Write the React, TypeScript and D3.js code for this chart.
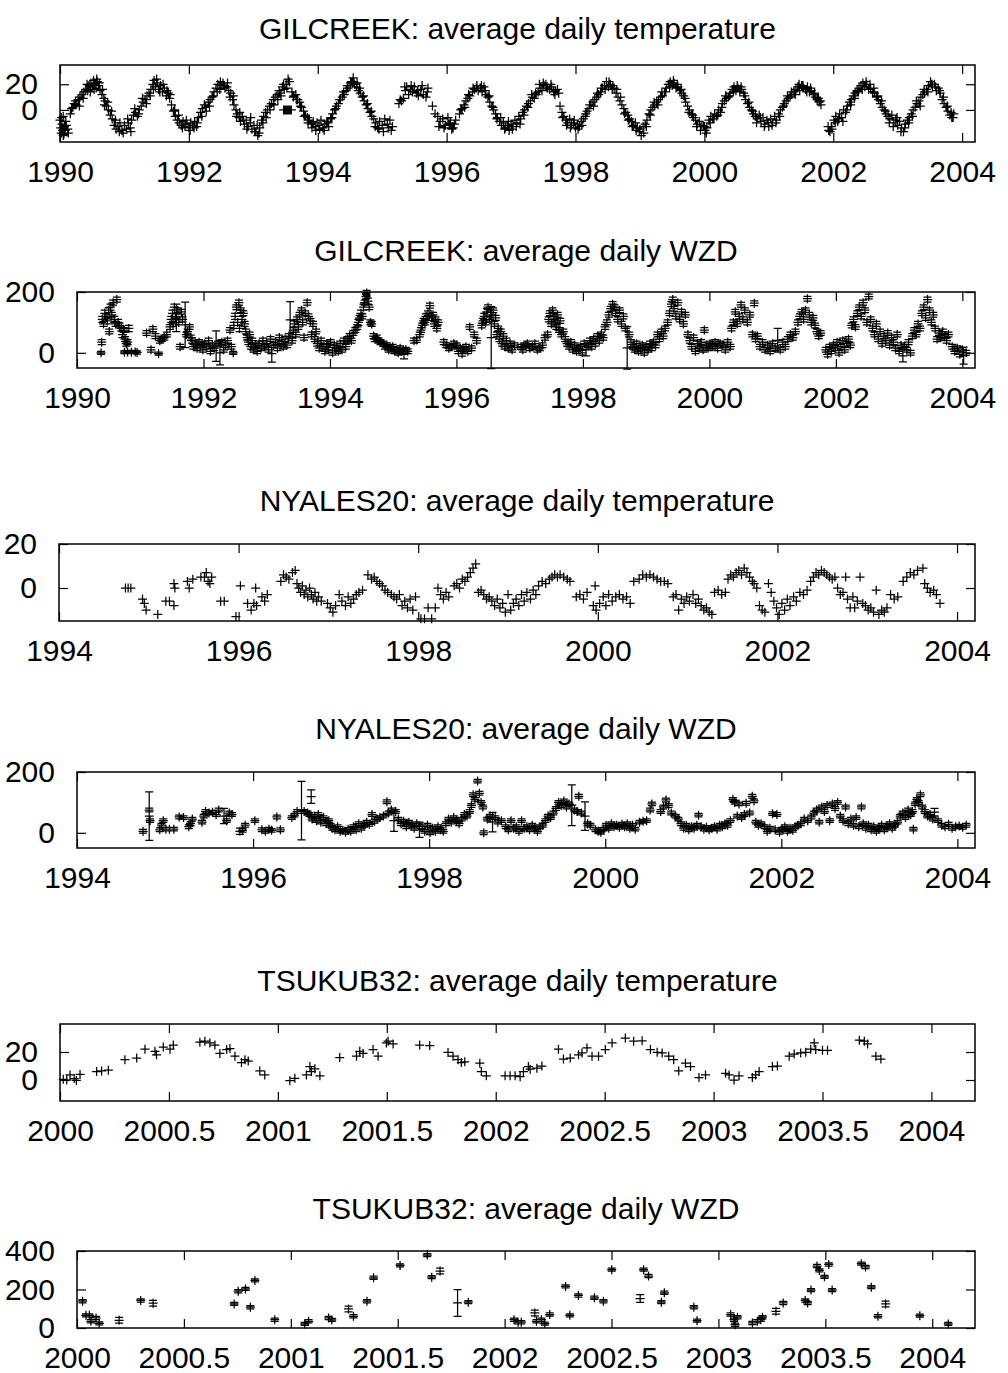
import React, { useEffect, useRef } from 'react';
import * as d3 from 'd3';

// GILCREEK: average daily temperature [year, degC]
const gilTemp: number[][] = [
  [1990.00,-8],[1990.01,-14],[1990.02,-18],[1990.03,-11],[1990.04,-16],[1990.05,-5],[1990.06,-19],[1990.07,-13],[1990.08,-16],[1990.10,-12],[1990.12,-15],
  [1990.16,-3],[1990.20,2],[1990.22,5],[1990.25,4],[1990.28,8],[1990.31,10],[1990.34,12],[1990.37,14],[1990.40,16],[1990.43,15],[1990.45,19],[1990.48,21],[1990.50,18],[1990.52,23],[1990.54,20],[1990.56,17],[1990.58,22],[1990.60,19],[1990.62,15],
  [1990.65,12],[1990.68,9],[1990.70,7],[1990.72,3],[1990.75,0],[1990.78,-4],[1990.81,-7],[1990.84,-12],[1990.87,-15],[1990.90,-13],[1990.93,-10],[1990.96,-16],[1991.00,-12],[1991.03,-15],[1991.06,-10],[1991.09,-14],[1991.11,-8],
  [1991.14,-4],[1991.17,-2],[1991.20,-5],[1991.23,0],[1991.26,3],[1991.29,6],[1991.32,8],[1991.35,11],[1991.38,13],[1991.41,16],[1991.44,20],[1991.46,23],[1991.48,18],[1991.51,21],[1991.53,16],[1991.56,19],[1991.59,14],[1991.62,17],[1991.65,11],[1991.68,13],[1991.70,9],
  [1991.73,4],[1991.76,-1],[1991.79,-5],[1991.82,-8],[1991.85,-10],[1991.88,-12],[1991.91,-9],[1991.94,-13],[1991.97,-11],[1992.00,-14],[1992.03,-10],[1992.06,-12],[1992.09,-9],[1992.12,-13],
  [1992.15,-6],[1992.18,-2],[1992.21,1],[1992.24,4],[1992.27,-1],[1992.30,6],[1992.33,8],[1992.36,10],[1992.39,14],[1992.42,17],[1992.45,20],[1992.48,16],[1992.50,19],[1992.53,21],[1992.56,17],[1992.59,18],[1992.62,15],[1992.65,13],
  [1992.68,8],[1992.70,4],[1992.73,0],[1992.75,-3],[1992.78,-6],[1992.80,-9],[1992.83,-5],[1992.86,-11],[1992.89,-8],[1992.92,-13],[1992.95,-10],[1992.98,-15],[1993.01,-12],[1993.04,-17],[1993.07,-20],[1993.10,-14],
  [1993.13,-8],[1993.16,-5],[1993.19,-2],[1993.22,0],[1993.25,3],[1993.28,5],[1993.31,8],[1993.34,10],[1993.37,12],[1993.40,15],[1993.42,13],[1993.45,18],[1993.48,16],[1993.51,20],[1993.54,24],
  [1993.47,0],[1993.49,0],[1993.51,0],[1993.53,0],[1993.55,0],[1993.57,0],[1993.59,0],
  [1993.60,14],[1993.63,11],[1993.66,12],[1993.69,8],[1993.72,6],[1993.75,2],[1993.78,-1],[1993.81,-4],[1993.84,-6],[1993.87,-8],[1993.90,-11],[1993.93,-9],[1993.96,-13],[1993.99,-10],[1994.02,-12],[1994.05,-8],[1994.08,-14],[1994.11,-11],[1994.14,-9],[1994.17,-13],[1994.20,-7],
  [1994.23,-3],[1994.26,0],[1994.29,3],[1994.32,5],[1994.35,8],[1994.38,10],[1994.41,12],[1994.44,15],[1994.47,17],[1994.50,19],[1994.53,22],[1994.55,25],[1994.57,20],[1994.60,18],[1994.63,15],[1994.66,13],
  [1994.69,10],[1994.72,7],[1994.75,4],[1994.78,1],[1994.81,-2],[1994.84,-5],[1994.87,-7],[1994.90,-10],[1994.93,-14],[1994.96,-9],[1995.00,-12],[1995.04,-7],[1995.08,-11],[1995.12,-8],[1995.16,-13],
  [1995.26,5],[1995.30,7],[1995.33,9],[1995.36,15],[1995.38,18],[1995.41,12],[1995.44,16],[1995.47,14],[1995.50,18],[1995.53,13],[1995.56,11],[1995.60,16],[1995.64,12],[1995.68,10],[1995.71,17],
  [1995.78,3],[1995.86,-5],[1995.90,-9],[1995.94,-7],[1995.98,-12],[1996.02,-6],[1996.06,-10],[1996.10,-14],[1996.14,-8],
  [1996.20,-3],[1996.24,1],[1996.27,4],[1996.30,7],[1996.33,9],[1996.36,11],[1996.40,14],[1996.43,16],[1996.46,17],[1996.49,15],[1996.52,17],[1996.55,14],[1996.58,18],[1996.61,12],[1996.64,10],
  [1996.67,6],[1996.70,3],[1996.73,0],[1996.76,-3],[1996.79,-6],[1996.82,-9],[1996.85,-12],[1996.88,-10],[1996.91,-14],[1996.94,-12],[1996.97,-16],[1997.00,-13],[1997.03,-11],[1997.06,-8],[1997.09,-10],
  [1997.12,-5],[1997.15,-7],[1997.18,-2],[1997.21,0],[1997.24,3],[1997.27,5],[1997.30,7],[1997.33,10],[1997.36,9],[1997.39,12],[1997.42,14],[1997.45,17],[1997.48,15],[1997.51,19],[1997.54,20],[1997.57,17],[1997.60,16],[1997.63,18],[1997.66,14],[1997.69,15],[1997.72,16],
  [1997.76,3],[1997.79,-2],[1997.82,-5],[1997.85,-8],[1997.88,-10],[1997.91,-7],[1997.94,-12],[1997.97,-10],[1998.00,-14],[1998.03,-11],[1998.06,-13],[1998.09,-9],[1998.12,-7],[1998.15,-5],
  [1998.18,-1],[1998.21,1],[1998.24,4],[1998.27,6],[1998.30,8],[1998.33,10],[1998.36,12],[1998.39,14],[1998.42,17],[1998.45,19],[1998.48,22],[1998.51,18],[1998.54,20],[1998.57,16],[1998.60,17],[1998.63,13],[1998.66,10],
  [1998.69,7],[1998.72,4],[1998.75,1],[1998.78,-2],[1998.81,-4],[1998.84,-7],[1998.87,-9],[1998.90,-12],[1998.93,-10],[1998.96,-14],[1998.99,-17],[1999.02,-20],[1999.05,-13],[1999.08,-11],[1999.11,-8],
  [1999.14,-3],[1999.17,0],[1999.20,2],[1999.23,4],[1999.26,6],[1999.29,8],[1999.32,10],[1999.35,11],[1999.38,14],[1999.41,17],[1999.44,20],[1999.47,22],[1999.50,19],[1999.53,21],[1999.56,17],[1999.59,18],[1999.62,15],[1999.65,13],[1999.68,11],
  [1999.71,6],[1999.74,3],[1999.77,0],[1999.80,-3],[1999.83,-6],[1999.86,-8],[1999.89,-11],[1999.92,-9],[1999.95,-13],[1999.98,-12],[2000.01,-16],[2000.03,-18],
  [2000.07,-8],[2000.10,-5],[2000.13,-7],[2000.16,-3],[2000.19,-5],[2000.22,0],[2000.25,-2],[2000.28,5],[2000.31,7],[2000.34,9],[2000.37,10],[2000.40,13],[2000.43,16],[2000.46,18],[2000.49,15],[2000.52,17],[2000.55,14],[2000.58,16],[2000.61,13],
  [2000.64,8],[2000.67,5],[2000.70,2],[2000.73,0],[2000.76,-3],[2000.79,-5],[2000.82,-7],[2000.85,-4],[2000.88,-9],[2000.91,-6],[2000.94,-11],[2000.97,-8],[2001.00,-13],[2001.03,-7],[2001.06,-10],[2001.09,-5],[2001.12,-8],[2001.15,-3],
  [2001.18,0],[2001.21,2],[2001.24,5],[2001.27,7],[2001.30,9],[2001.33,10],[2001.36,12],[2001.39,14],[2001.42,16],[2001.45,18],[2001.48,15],[2001.51,19],[2001.54,17],[2001.57,16],[2001.60,18],[2001.63,14],[2001.66,15],[2001.69,12],[2001.72,10],[2001.75,8],[2001.78,6],[2001.81,4],
  [2001.92,-13],[2001.95,-17],[2001.98,-15],[2002.01,-8],[2002.04,-5],[2002.07,-9],[2002.10,-3],[2002.13,-6],[2002.16,0],[2002.19,-2],[2002.22,3],[2002.25,6],[2002.28,8],[2002.31,11],[2002.34,13],[2002.37,15],[2002.40,17],[2002.43,19],[2002.46,21],[2002.49,18],[2002.52,20],[2002.55,16],[2002.58,17],[2002.61,14],[2002.64,13],
  [2002.67,10],[2002.70,8],[2002.73,5],[2002.76,2],[2002.79,0],[2002.82,-3],[2002.85,-5],[2002.88,-7],[2002.91,-4],[2002.94,-10],[2002.97,-8],[2003.00,-12],[2003.03,-9],[2003.06,-14],[2003.09,-17],[2003.12,-11],[2003.15,-8],[2003.18,-6],
  [2003.21,-3],[2003.24,0],[2003.27,2],[2003.30,5],[2003.33,7],[2003.36,10],[2003.39,12],[2003.42,14],[2003.45,16],[2003.48,19],[2003.51,22],[2003.54,18],[2003.57,20],[2003.60,15],[2003.63,17],[2003.66,13],
  [2003.69,8],[2003.72,5],[2003.75,2],[2003.78,-1],[2003.81,-4],[2003.84,-6],[2003.87,-3],
  // second pass: the spread at the edges of each band
  [1990.02,-6],[1990.05,-20],[1990.09,-9],[1990.13,-18],[1990.18,1],[1990.24,7],[1990.30,3],[1990.36,9],[1990.42,20],[1990.47,14],[1990.53,16],[1990.57,24],[1990.61,21],[1990.66,16],[1990.69,4],[1990.74,6],[1990.80,-1],[1990.86,-8],[1990.92,-17],[1990.98,-18],[1991.05,-7],[1991.10,-17],
  [1991.16,1],[1991.22,-3],[1991.28,9],[1991.34,5],[1991.40,11],[1991.45,16],[1991.50,24],[1991.55,14],[1991.60,20],[1991.66,15],[1991.71,12],[1991.78,0],[1991.84,-4],[1991.90,-14],[1991.96,-8],[1992.02,-16],[1992.08,-14],[1992.13,-10],
  [1992.20,-5],[1992.26,2],[1992.32,3],[1992.38,11],[1992.44,14],[1992.49,22],[1992.55,19],[1992.60,21],[1992.64,10],[1992.69,11],[1992.74,-5],[1992.79,-2],[1992.85,-8],[1992.90,-15],[1992.96,-6],[1993.02,-17],[1993.06,-12],[1993.09,-18],
  [1993.15,-10],[1993.20,-6],[1993.26,0],[1993.32,4],[1993.38,8],[1993.43,11],[1993.47,20],[1993.52,17],[1993.56,22],[1993.62,10],[1993.67,8],[1993.73,3],[1993.79,-5],[1993.85,-10],[1993.91,-14],[1993.97,-16],[1994.03,-15],[1994.10,-16],[1994.16,-10],
  [1994.22,-6],[1994.28,1],[1994.34,8],[1994.40,14],[1994.46,19],[1994.51,21],[1994.56,22],[1994.61,21],[1994.65,17],[1994.71,11],[1994.77,5],[1994.83,-1],[1994.89,-13],[1994.95,-15],[1995.02,-17],[1995.10,-14],[1995.14,-16],
  [1995.28,8],[1995.35,18],[1995.45,19],[1995.55,15],[1995.62,19],[1995.70,14],[1995.82,-3],[1995.88,-13],[1995.96,-14],[1996.04,-11],[1996.08,-15],[1996.12,-11],
  [1996.22,0],[1996.28,2],[1996.34,12],[1996.41,17],[1996.47,19],[1996.54,19],[1996.60,15],[1996.66,11],[1996.72,2],[1996.78,-7],[1996.84,-6],[1996.90,-15],[1996.96,-9],[1997.02,-15],[1997.08,-13],[1997.14,-11],
  [1997.20,-4],[1997.26,2],[1997.32,12],[1997.38,13],[1997.44,20],[1997.50,21],[1997.56,17],[1997.62,20],[1997.68,12],[1997.74,13],[1997.80,-6],[1997.86,-12],[1997.92,-14],[1997.98,-8],[1998.04,-15],[1998.10,-12],
  [1998.16,-3],[1998.22,4],[1998.28,3],[1998.34,13],[1998.40,17],[1998.46,16],[1998.52,22],[1998.58,19],[1998.64,16],[1998.70,10],[1998.76,-3],[1998.82,-8],[1998.88,-13],[1998.94,-16],[1999.00,-15],[1999.06,-18],[1999.10,-13],
  [1999.16,-4],[1999.22,6],[1999.28,4],[1999.34,14],[1999.40,14],[1999.46,18],[1999.52,23],[1999.58,20],[1999.64,16],[1999.70,9],[1999.76,-2],[1999.82,-4],[1999.88,-13],[1999.94,-16],[2000.00,-13],[2000.04,-14],
  [2000.09,-10],[2000.15,-7],[2000.21,-4],[2000.27,2],[2000.33,11],[2000.39,11],[2000.45,14],[2000.51,19],[2000.57,18],[2000.63,11],[2000.69,6],[2000.75,-1],[2000.81,-10],[2000.87,-6],[2000.93,-13],[2000.99,-10],[2001.05,-12],[2001.11,-10],
  [2001.17,-5],[2001.23,3],[2001.29,11],[2001.35,14],[2001.41,12],[2001.47,20],[2001.53,19],[2001.59,14],[2001.65,17],[2001.71,13],[2001.77,9],[2001.80,7],
  [2001.93,-16],[2001.97,-13],[2002.03,-10],[2002.09,-7],[2002.15,-9],[2002.21,0],[2002.27,4],[2002.33,9],[2002.39,14],[2002.45,16],[2002.51,22],[2002.57,20],[2002.63,17],[2002.69,11],[2002.75,7],[2002.81,-1],[2002.87,-10],[2002.93,-13],[2002.99,-6],[2003.05,-17],[2003.11,-14],[2003.17,-10],
  [2003.23,-5],[2003.29,7],[2003.35,3],[2003.41,16],[2003.47,14],[2003.53,20],[2003.59,18],[2003.65,15],[2003.71,10],[2003.77,3],[2003.83,-2],[2003.86,-6],
];

// GILCREEK: average daily WZD [year, mm, error]
const gilWzd: number[][] = [
  [1990.38,0,5],[1990.39,35,8],[1990.40,110,10],[1990.42,95,8],[1990.44,130,10],[1990.46,120,8],[1990.48,105,10],[1990.50,140,8],[1990.51,70,8],[1990.53,150,10],[1990.55,125,8],[1990.57,165,8],[1990.59,110,10],[1990.61,95,8],[1990.63,175,8],[1990.65,100,10],[1990.67,90,8],[1990.70,80,8],[1990.72,60,10],[1990.74,75,8],[1990.76,45,8],[1990.78,30,8],[1990.80,35,8],[1990.82,80,10],
  [1990.75,2,5],[1990.80,3,5],[1990.86,2,5],[1990.92,3,5],[1990.95,1,5],
  [1991.10,65,8],[1991.17,10,8],[1991.20,78,8],[1991.24,55,8],[1991.29,-3,5],[1991.31,40,8],[1991.34,45,8],[1991.38,50,8],[1991.42,60,8],
  [1991.47,85,8],[1991.49,110,10],[1991.51,130,10],[1991.52,95,8],[1991.54,150,10],[1991.56,120,8],[1991.57,115,45],[1991.59,140,8],[1991.61,100,8],[1991.63,20,8],[1991.65,135,8],[1991.67,110,8],[1991.71,92,75],[1991.73,60,8],[1991.75,70,8],[1991.78,85,8],[1991.80,50,8],[1991.82,40,8],
  [1991.84,20,8],[1991.87,30,8],[1991.90,15,8],[1991.93,35,8],[1991.96,25,8],[1991.99,10,8],[1992.02,30,8],[1992.05,20,8],[1992.08,40,8],[1992.11,5,8],[1992.14,25,8],[1992.17,15,8],[1992.20,22,50],[1992.23,30,8],[1992.26,0,40],[1992.29,35,8],[1992.32,10,8],[1992.35,25,8],[1992.38,40,8],[1992.42,75,8],[1992.44,20,8],[1992.47,0,5],
  [1992.48,90,10],[1992.50,120,10],[1992.52,150,8],[1992.54,100,10],[1992.56,165,8],[1992.57,80,10],[1992.59,140,8],[1992.61,110,10],[1992.63,130,8],[1992.65,95,8],[1992.67,70,8],[1992.69,50,8],[1992.71,35,8],[1992.73,60,8],[1992.75,20,8],[1992.77,40,8],[1992.79,10,8],[1992.82,25,8],[1992.85,5,8],[1992.88,30,8],[1992.91,15,8],[1992.94,40,8],[1992.97,20,8],
  [1993.00,30,8],[1993.03,10,8],[1993.06,45,8],[1993.08,-3,28],[1993.11,25,8],[1993.14,35,8],[1993.17,15,8],[1993.20,50,8],[1993.23,30,8],[1993.26,20,8],[1993.29,45,8],[1993.32,25,8],[1993.35,55,8],[1993.37,108,60],[1993.40,40,8],[1993.42,75,8],[1993.44,95,10],[1993.46,60,8],[1993.48,110,8],[1993.50,85,8],[1993.52,125,8],[1993.55,140,8],[1993.57,100,8],[1993.59,50,8],[1993.61,130,8],[1993.64,165,8],[1993.66,120,8],[1993.69,105,8],[1993.71,60,8],[1993.73,95,8],[1993.76,45,8],[1993.78,70,8],
  [1993.80,30,8],[1993.83,15,8],[1993.86,40,8],[1993.89,20,8],[1993.92,5,8],[1993.95,30,8],[1993.98,10,8],[1994.01,35,8],[1994.04,0,8],[1994.07,25,8],[1994.10,15,8],[1994.13,5,8],[1994.16,30,8],[1994.19,10,8],[1994.22,40,8],[1994.25,20,8],
  [1994.28,45,8],[1994.31,55,8],[1994.34,40,8],[1994.37,65,8],[1994.40,75,8],[1994.43,85,8],[1994.45,100,10],[1994.47,115,8],[1994.49,130,10],[1994.51,120,8],[1994.53,150,10],[1994.55,165,8],[1994.57,185,8],[1994.58,197,8],[1994.60,170,10],[1994.62,150,8],[1994.64,100,8],[1994.66,95,8],[1994.69,55,8],[1994.71,45,8],[1994.74,50,8],[1994.77,40,8],[1994.80,35,8],
  [1994.84,30,8],[1994.87,20,8],[1994.90,25,8],[1994.93,10,8],[1994.96,15,8],[1994.99,20,8],[1995.02,5,8],[1995.05,10,8],[1995.08,0,8],[1995.11,15,8],[1995.14,5,8],[1995.17,-5,15],[1995.20,10,8],[1995.23,5,8],
  [1995.33,40,8],[1995.37,42,8],[1995.42,60,8],[1995.44,75,8],[1995.46,90,8],[1995.48,105,8],[1995.50,100,8],[1995.52,120,8],[1995.55,130,8],[1995.58,155,8],[1995.61,115,8],[1995.63,125,8],[1995.65,95,8],[1995.67,110,8],[1995.69,80,8],[1995.71,100,8],
  [1995.80,35,8],[1995.84,25,8],[1995.88,15,8],[1995.92,20,8],[1995.96,30,8],[1996.00,25,8],[1996.03,5,8],[1996.06,15,8],[1996.09,-3,8],[1996.12,10,8],[1996.15,20,8],[1996.18,5,8],[1996.21,85,8],[1996.24,15,8],[1996.28,60,8],[1996.32,40,8],
  [1996.40,90,8],[1996.42,105,8],[1996.44,120,10],[1996.46,100,8],[1996.48,135,10],[1996.50,150,8],[1996.52,110,8],[1996.54,125,8],[1996.55,50,102],[1996.58,140,8],[1996.60,95,8],[1996.62,115,8],[1996.64,60,8],[1996.66,80,8],[1996.68,45,8],[1996.70,70,8],[1996.72,30,8],[1996.74,55,8],[1996.76,20,8],[1996.79,40,8],[1996.82,15,8],[1996.85,30,8],[1996.88,10,8],[1996.92,25,8],
  [1997.02,20,8],[1997.05,10,8],[1997.09,25,8],[1997.12,30,8],[1997.16,15,8],[1997.20,20,8],[1997.24,30,8],[1997.28,10,8],[1997.32,15,8],[1997.36,25,8],
  [1997.40,50,8],[1997.44,60,8],[1997.46,110,8],[1997.48,130,8],[1997.50,95,8],[1997.52,140,8],[1997.54,120,8],[1997.56,100,8],[1997.58,85,8],[1997.60,125,8],[1997.62,75,8],[1997.64,105,8],[1997.66,60,8],[1997.69,70,8],[1997.72,45,8],[1997.75,30,8],
  [1997.78,20,8],[1997.81,35,8],[1997.84,10,8],[1997.87,25,8],[1997.90,5,8],[1997.93,15,8],[1997.96,20,8],[1997.99,0,8],[1998.02,30,8],[1998.05,10,20],[1998.08,25,8],[1998.11,40,8],[1998.14,20,8],[1998.17,45,8],[1998.20,30,8],[1998.23,55,8],[1998.26,40,8],[1998.29,60,8],[1998.32,50,8],
  [1998.35,85,8],[1998.38,100,8],[1998.41,125,8],[1998.44,145,8],[1998.47,160,8],[1998.50,150,8],[1998.52,130,8],[1998.55,110,8],[1998.58,140,8],[1998.61,95,8],[1998.64,120,8],[1998.67,80,8],[1998.70,16,70],[1998.73,60,8],[1998.76,35,8],
  [1998.79,20,8],[1998.82,10,8],[1998.85,30,8],[1998.88,5,8],[1998.91,15,8],[1998.94,25,8],[1998.97,0,8],[1999.00,20,8],[1999.03,10,8],[1999.06,30,8],[1999.09,15,8],[1999.12,35,8],[1999.15,25,8],[1999.18,60,8],[1999.21,45,8],[1999.24,70,8],[1999.27,55,8],[1999.30,80,8],
  [1999.34,100,8],[1999.37,130,8],[1999.40,160,8],[1999.42,175,8],[1999.44,145,8],[1999.47,120,8],[1999.50,165,8],[1999.53,110,8],[1999.56,135,8],[1999.59,95,8],[1999.62,125,8],
  [1999.66,60,8],[1999.69,40,8],[1999.72,20,8],[1999.75,50,8],[1999.78,5,8],[1999.81,30,8],[1999.84,15,8],[1999.87,35,8],[1999.90,10,8],[1999.92,75,8],[1999.95,25,8],[1999.98,15,8],[2000.01,30,8],[2000.05,20,8],[2000.09,35,8],[2000.13,15,8],[2000.17,30,8],[2000.21,25,8],[2000.25,10,8],[2000.29,35,8],[2000.33,20,8],
  [2000.35,80,8],[2000.38,100,8],[2000.41,135,8],[2000.44,95,8],[2000.47,120,8],[2000.50,158,8],[2000.53,110,8],[2000.56,140,8],[2000.60,100,8],[2000.64,125,8],[2000.68,60,8],[2000.71,163,8],[2000.73,45,8],[2000.76,55,8],
  [2000.80,20,8],[2000.84,35,8],[2000.88,10,8],[2000.92,25,8],[2000.96,5,8],[2001.00,30,8],[2001.04,15,8],[2001.08,41,39],[2001.12,10,8],[2001.16,35,8],[2001.20,20,8],[2001.24,45,8],[2001.28,60,8],[2001.32,50,8],[2001.36,70,8],
  [2001.40,100,8],[2001.43,120,8],[2001.46,135,8],[2001.49,110,8],[2001.52,140,8],[2001.55,178,8],[2001.58,125,8],[2001.61,100,8],[2001.64,115,8],[2001.67,90,8],[2001.70,70,8],[2001.73,55,8],[2001.76,65,8],
  [2001.84,10,8],[2001.87,-5,8],[2001.90,20,8],[2001.93,5,8],[2001.96,25,8],[2001.99,15,8],[2002.02,35,8],[2002.05,0,8],[2002.08,20,8],[2002.11,40,8],[2002.14,10,8],[2002.17,30,8],[2002.20,45,8],[2002.23,25,8],
  [2002.25,90,8],[2002.28,110,8],[2002.31,85,8],[2002.34,130,8],[2002.37,150,8],[2002.40,120,8],[2002.43,165,8],[2002.46,140,8],[2002.49,100,8],[2002.52,185,8],[2002.55,110,8],
  [2002.58,80,8],[2002.61,60,8],[2002.64,95,8],[2002.67,45,8],[2002.70,70,8],[2002.73,30,8],[2002.76,55,8],[2002.79,40,8],[2002.82,65,8],[2002.85,25,8],[2002.88,50,8],[2002.91,35,8],[2002.94,15,8],[2002.97,60,8],[2003.00,5,8],[2003.03,25,8],[2003.06,-10,20],[2003.09,20,8],[2003.12,10,8],[2003.15,35,8],[2003.18,0,8],
  [2003.21,55,8],[2003.24,75,8],[2003.27,60,8],[2003.30,95,8],[2003.33,80,8],[2003.36,130,8],[2003.39,150,8],[2003.42,115,8],[2003.45,175,8],[2003.48,140,8],[2003.51,100,8],[2003.54,125,8],[2003.57,80,8],[2003.60,45,8],[2003.63,65,8],[2003.66,50,8],[2003.69,70,8],[2003.72,55,8],[2003.75,40,8],[2003.78,60,8],
  [2003.84,20,8],[2003.88,5,8],[2003.92,15,8],[2003.96,-5,8],[2004.00,10,8],[2004.02,-9,28],[2004.06,0,8],
];

// NYALES20: average daily temperature [year, degC]
const nyTemp: number[][] = [
  [1994.74,0],[1994.77,0],[1994.80,0],
  [1994.93,-5],[1994.95,-7],[1994.97,-10],[1995.10,-12],[1995.19,-6],[1995.23,-6],[1995.28,-8],[1995.28,2],[1995.29,0],[1995.43,3],[1995.45,0],[1995.49,4],[1995.58,5],[1995.62,5],[1995.64,7],[1995.66,3],[1995.68,2],[1995.70,5],
  [1995.80,-6],[1995.84,-6],[1995.97,-13],[1996.02,1],[1996.10,-7],[1996.14,-10],[1996.17,-7],[1996.20,-8],[1996.19,0],[1996.26,-4],[1996.29,-6],[1996.32,-3],
  [1996.47,3],[1996.50,6],[1996.53,5],[1996.56,4],[1996.60,7],[1996.63,8],[1996.65,2],[1996.67,0],[1996.69,-2],[1996.71,1],[1996.73,-3],[1996.75,-1],[1996.77,-4],[1996.79,0],[1996.81,-3],[1996.83,-5],[1996.85,-2],[1996.87,-6],[1996.89,-4],[1996.92,-6],
  [1996.99,-7],[1997.02,-9],[1997.05,-11],[1997.08,-8],[1997.12,-3],[1997.15,-6],[1997.19,-8],[1997.22,-4],[1997.25,-7],[1997.28,-5],[1997.31,-3],[1997.34,-2],[1997.38,-1],
  [1997.44,6],[1997.48,4],[1997.51,5],[1997.54,3],[1997.57,2],[1997.60,1],[1997.63,-1],[1997.66,-2],[1997.70,-3],[1997.73,-4],[1997.76,-5],[1997.79,-3],[1997.82,-8],[1997.85,-6],[1997.88,-9],[1997.91,-5],[1997.94,-10],[1997.97,-4],
  [1998.03,-14],[1998.07,-14],[1998.11,-9],[1998.15,-14],[1998.19,-9],[1998.22,0],[1998.25,-3],[1998.28,-5],[1998.31,-2],[1998.34,-4],[1998.40,1],[1998.43,2],[1998.46,0],[1998.49,4],[1998.52,3],[1998.55,5],[1998.58,7],[1998.61,9],[1998.64,11],
  [1998.67,-2],[1998.70,-1],[1998.73,-3],[1998.76,-5],[1998.79,-4],[1998.82,-6],[1998.85,-8],[1998.88,-5],[1998.91,-9],[1998.94,-7],[1998.97,-11],[1999.00,-3],[1999.03,-10],[1999.06,-7],[1999.09,-5],[1999.12,-8],[1999.15,-3],[1999.18,-6],[1999.21,-2],[1999.25,-5],[1999.28,-1],[1999.31,-3],
  [1999.34,1],[1999.38,3],[1999.42,2],[1999.46,4],[1999.49,5],[1999.52,6],[1999.55,5],[1999.58,6],[1999.62,5],[1999.66,4],[1999.69,3],
  [1999.76,-4],[1999.80,-3],[1999.84,-5],[1999.88,-2],[1999.95,-8],[1999.97,1],[1999.98,-10],[2000.02,-7],[2000.06,-4],[2000.09,-8],[2000.12,-3],[2000.16,-6],[2000.20,-4],[2000.24,-3],[2000.28,-5],[2000.32,-4],[2000.36,-7],
  [2000.40,3],[2000.46,4],[2000.50,6],[2000.54,5],[2000.58,6],[2000.62,5],[2000.66,4],[2000.70,3],[2000.74,3],[2000.78,2],
  [2000.84,-4],[2000.87,-3],[2000.90,-10],[2000.93,-5],[2000.96,-7],[2000.99,-4],[2001.02,-6],[2001.06,-3],[2001.09,-7],[2001.12,-5],[2001.15,-8],[2001.18,-10],[2001.21,-9],[2001.24,-11],[2001.27,-12],
  [2001.30,-2],[2001.34,-1],[2001.38,-3],[2001.42,-2],[2001.45,4],[2001.48,6],[2001.51,5],[2001.54,7],[2001.57,8],[2001.60,6],[2001.63,9],[2001.66,7],[2001.69,5],[2001.72,3],
  [2001.74,2],[2001.77,0],[2001.80,-8],[2001.83,-10],[2001.86,-11],[2001.90,2],[2001.93,-2],[2001.96,-6],[2001.99,-9],[2002.02,-12],[2002.05,-7],[2002.08,-10],[2002.11,-5],[2002.14,-8],[2002.18,-4],[2002.21,-6],[2002.25,-2],[2002.29,-3],[2002.33,-1],
  [2002.37,3],[2002.40,5],[2002.43,7],[2002.46,6],[2002.49,8],[2002.52,7],[2002.55,6],[2002.58,5],[2002.61,4],[2002.64,5],
  [2002.67,0],[2002.70,-3],[2002.73,-2],[2002.76,5],[2002.78,-5],[2002.81,-9],[2002.84,-4],[2002.86,-9],[2002.89,-6],[2002.92,5],[2002.95,-7],[2002.98,-8],[2003.01,-10],[2003.04,-9],[2003.07,-11],[2003.10,-1],[2003.13,-12],[2003.16,-10],[2003.19,-11],[2003.22,-9],
  [2003.26,-3],[2003.30,-5],[2003.34,-4],[2003.40,3],[2003.44,5],[2003.48,7],[2003.52,6],[2003.56,8],[2003.62,9],[2003.64,2],[2003.67,0],[2003.70,-2],[2003.74,-1],[2003.77,-3],[2003.81,-7],
];

// NYALES20: average daily WZD [year, mm, error]
const nyWzd: number[][] = [
  [1994.75,5,6],[1994.82,55,80],[1994.82,75,6],[1994.83,40,6],[1994.94,10,6],[1994.96,25,6],[1994.98,40,6],[1995.01,12,6],[1995.05,12,6],[1995.10,12,6],[1995.16,52,6],[1995.21,50,6],[1995.27,20,6],[1995.29,30,6],[1995.31,45,6],
  [1995.42,35,6],[1995.44,55,6],[1995.46,70,6],[1995.50,65,6],[1995.54,68,6],[1995.58,60,6],[1995.61,75,6],[1995.67,55,25],[1995.70,40,6],[1995.73,65,6],[1995.76,60,6],
  [1995.85,5,10],[1995.88,8,6],[1995.91,25,6],[1996.02,40,6],[1996.10,10,6],[1996.14,5,6],[1996.18,12,6],[1996.21,8,6],[1996.27,52,6],[1996.31,10,6],
  [1996.44,50,6],[1996.47,58,6],[1996.50,70,6],[1996.55,73,96],[1996.58,70,6],[1996.62,65,6],[1996.66,119,22],[1996.64,60,6],[1996.67,45,6],[1996.70,55,6],[1996.72,40,6],[1996.74,60,6],[1996.77,35,6],[1996.80,50,6],[1996.83,30,6],[1996.86,40,6],[1996.88,25,6],
  [1996.90,15,6],[1996.93,10,6],[1996.96,20,6],[1996.99,5,6],[1997.02,8,6],[1997.05,2,6],[1997.08,12,6],[1997.11,5,6],[1997.14,20,6],[1997.17,10,6],[1997.20,30,6],[1997.23,15,6],[1997.26,25,6],[1997.29,35,6],[1997.32,28,6],[1997.35,60,6],[1997.38,38,6],[1997.41,45,6],[1997.44,50,6],[1997.48,55,6],
  [1997.52,102,6],[1997.54,65,6],[1997.57,75,6],[1997.60,40,35],[1997.62,70,6],[1997.65,45,6],[1997.68,30,6],[1997.71,38,6],[1997.74,20,6],[1997.77,35,6],[1997.80,25,6],[1997.83,15,6],[1997.86,30,6],[1997.89,10,25],[1997.92,20,6],[1997.95,5,6],[1997.98,25,6],[1998.01,0,6],[1998.04,15,6],[1998.07,5,6],[1998.10,20,6],[1998.13,10,6],[1998.16,5,6],
  [1998.19,30,6],[1998.22,45,6],[1998.25,35,6],[1998.28,50,6],[1998.31,40,6],[1998.34,30,6],[1998.37,45,6],[1998.40,60,6],[1998.43,55,6],[1998.46,70,6],[1998.48,90,6],[1998.50,125,6],[1998.52,110,6],[1998.55,170,6],[1998.57,130,6],[1998.59,100,6],[1998.61,85,6],[1998.62,0,6],
  [1998.66,45,6],[1998.69,55,6],[1998.72,35,32],[1998.75,50,6],[1998.78,35,6],[1998.82,40,6],
  [1998.87,20,6],[1998.90,10,6],[1998.93,40,6],[1998.96,15,6],[1998.99,20,6],[1999.02,5,6],[1999.05,40,6],[1999.08,15,6],[1999.11,20,6],[1999.14,10,6],[1999.17,25,6],[1999.20,15,6],[1999.23,5,6],[1999.26,20,6],[1999.29,25,6],
  [1999.32,40,6],[1999.35,55,6],[1999.38,50,6],[1999.41,65,6],[1999.44,80,6],[1999.47,100,6],[1999.50,90,6],[1999.53,105,6],[1999.56,85,6],[1999.59,95,6],[1999.62,91,67],[1999.65,75,6],[1999.68,70,6],[1999.70,120,6],[1999.73,65,6],[1999.77,55,47],[1999.80,30,6],[1999.83,25,6],
  [1999.89,10,6],[1999.92,5,6],[1999.95,2,6],[1999.98,12,6],[2000.01,25,6],[2000.04,15,6],[2000.07,30,6],[2000.10,20,6],[2000.13,25,6],[2000.16,18,6],[2000.19,28,6],[2000.22,20,6],[2000.25,30,6],[2000.28,15,6],[2000.31,25,6],[2000.34,12,6],
  [2000.39,35,6],[2000.43,38,6],[2000.47,40,6],[2000.51,75,6],[2000.53,95,6],[2000.63,70,6],[2000.66,85,6],[2000.69,108,6],[2000.72,90,6],[2000.75,65,6],
  [2000.80,55,6],[2000.83,45,6],[2000.86,30,6],[2000.89,15,6],[2000.92,25,6],[2000.95,10,6],[2000.98,20,6],[2001.01,15,6],[2001.04,25,6],[2001.06,58,6],[2001.09,20,6],[2001.12,12,6],[2001.15,18,6],[2001.18,10,6],[2001.21,15,6],[2001.24,20,6],[2001.27,12,6],[2001.30,25,6],[2001.33,20,6],[2001.36,30,6],[2001.39,25,6],
  [2001.42,40,6],[2001.45,110,6],[2001.47,100,6],[2001.50,55,6],[2001.52,95,6],[2001.55,50,6],[2001.58,60,6],[2001.60,97,6],[2001.64,65,6],[2001.67,120,6],[2001.69,105,6],[2001.71,35,6],[2001.74,25,6],[2001.77,30,6],
  [2001.81,20,6],[2001.84,5,6],[2001.87,15,6],[2001.90,63,6],[2001.93,10,6],[2001.95,60,6],[2001.98,2,6],[2002.01,12,6],[2002.04,20,6],[2002.07,5,6],[2002.10,15,6],[2002.13,8,6],[2002.16,20,6],[2002.19,25,6],
  [2002.22,30,6],[2002.26,45,6],[2002.30,40,6],[2002.34,52,6],[2002.37,65,6],[2002.40,75,6],[2002.43,35,6],[2002.46,85,6],[2002.49,70,6],[2002.52,90,6],[2002.55,40,6],[2002.58,95,6],[2002.61,80,6],[2002.64,100,6],
  [2002.67,55,6],[2002.70,40,6],[2002.73,85,6],[2002.76,30,6],[2002.79,45,6],[2002.82,25,6],[2002.85,50,6],[2002.88,20,6],[2002.91,85,6],[2002.93,30,6],
  [2002.96,15,6],[2002.99,25,6],[2003.02,10,6],[2003.05,20,6],[2003.08,5,6],[2003.11,15,6],[2003.14,25,6],[2003.17,10,6],[2003.20,20,6],[2003.23,30,6],[2003.26,15,6],[2003.29,25,6],[2003.32,35,6],
  [2003.35,55,6],[2003.38,65,6],[2003.41,50,6],[2003.44,75,6],[2003.47,60,6],[2003.49,70,6],[2003.50,12,6],[2003.52,95,6],[2003.54,110,6],[2003.56,100,6],[2003.58,125,6],[2003.60,85,6],
  [2003.63,70,6],[2003.66,55,6],[2003.69,60,6],[2003.72,45,6],[2003.74,68,12],[2003.78,40,6],
  [2003.82,25,6],[2003.86,20,6],[2003.90,28,6],[2003.94,15,6],[2003.98,20,6],[2004.02,22,6],[2004.06,18,6],[2004.10,25,6],
];

// TSUKUB32: average daily temperature [year, degC]
const tsTemp: number[][] = [
  [2000.015,0.5],[2000.031,0],[2000.046,3.6],[2000.065,1],[2000.075,-0.3],[2000.092,4],[2000.168,6],[2000.191,6.5],[2000.222,7],
  [2000.298,14.5],[2000.352,15.7],[2000.390,22],[2000.436,20.5],[2000.443,18],[2000.474,23.5],[2000.505,22],[2000.520,25],
  [2000.642,27],[2000.665,27.7],[2000.688,26.5],[2000.711,25],[2000.734,19],[2000.765,21.7],[2000.780,22.5],[2000.803,17],[2000.833,12.5],[2000.849,14.5],[2000.864,13.5],[2000.917,6.5],[2000.940,3.6],
  [2001.055,-0.5],[2001.078,1.2],[2001.131,3.6],[2001.147,9.6],[2001.154,6],[2001.170,8],[2001.193,3],
  [2001.284,16],[2001.361,17],[2001.376,20.5],[2001.391,19],[2001.437,21.7],[2001.460,17],[2001.498,26.5],[2001.506,27.7],[2001.529,25.8],
  [2001.651,25],[2001.697,24.6],[2001.781,19.7],[2001.804,17],[2001.827,14.5],[2001.842,12.5],[2001.858,13],[2001.927,12],[2001.934,6],[2001.957,3],
  [2002.043,3],[2002.066,3],[2002.089,3],[2002.112,2.4],[2002.127,6],[2002.150,9.6],[2002.158,7.7],[2002.189,8.4],[2002.212,10],
  [2002.288,22],[2002.311,15],[2002.342,15.7],[2002.380,18],[2002.396,19.3],[2002.419,22.9],[2002.442,17],[2002.472,17],[2002.503,21.7],[2002.534,26.5],
  [2002.595,30],[2002.633,27.7],[2002.672,28],[2002.710,21.7],[2002.741,19.8],[2002.764,19.3],[2002.794,17],[2002.817,14.5],[2002.840,6.5],[2002.871,12],[2002.894,9.6],[2002.933,1.7],[2002.963,3.6],
  [2003.055,4.8],[2003.071,3.6],[2003.094,0],[2003.117,3],[2003.178,1.7],[2003.193,3.6],[2003.209,6],[2003.270,9.6],[2003.293,10],
  [2003.347,17],[2003.370,18.5],[2003.400,19.3],[2003.423,19.8],[2003.446,22],[2003.462,26.5],[2003.469,21.7],[2003.500,21.2],[2003.523,21.2],
  [2003.669,28.4],[2003.692,27.7],[2003.707,25.8],[2003.745,17],[2003.768,15],
];

// TSUKUB32: average daily WZD [year, mm, error]
const tsWzd: number[][] = [
  [2000.026,139,8],[2000.042,66,8],[2000.058,66,8],[2000.065,35,8],[2000.089,52,8],[2000.104,24,8],[2000.197,40,15],[2000.298,143,8],[2000.356,129,15],
  [2000.735,125,8],[2000.754,191,8],[2000.788,203,8],[2000.811,108,8],[2000.832,247,8],[2000.925,43,8],
  [2001.065,21,8],[2001.083,35,8],[2001.177,52,8],[2001.192,42,8],[2001.270,99,15],[2001.293,61,8],[2001.356,139,8],[2001.387,261,8],
  [2001.511,325,8],[2001.638,379,8],[2001.659,264,8],[2001.698,296,15],[2001.780,130,70],[2001.830,134,8],
  [2002.044,43,8],[2002.063,30,8],[2002.078,30,8],[2002.141,78,15],[2002.149,35,8],[2002.172,43,8],[2002.188,23,8],[2002.211,70,8],
  [2002.285,216,8],[2002.305,66,8],[2002.345,169,8],[2002.420,157,8],[2002.462,139,8],[2002.501,303,8],
  [2002.634,153,20],[2002.650,303,8],[2002.673,270,8],[2002.733,134,8],[2002.747,183,8],[2002.885,108,8],[2002.900,38,8],
  [2003.057,70,8],[2003.073,43,8],[2003.078,17,8],[2003.089,56,8],[2003.159,26,8],[2003.182,35,8],[2003.198,43,8],[2003.206,56,8],
  [2003.269,87,15],[2003.303,130,8],[2003.406,143,8],[2003.417,130,8],[2003.433,197,8],[2003.461,322,8],[2003.472,299,8],[2003.496,266,8],[2003.516,330,8],[2003.532,197,8],
  [2003.668,334,8],[2003.688,317,8],[2003.715,212,8],[2003.746,61,8],[2003.782,125,15],[2003.942,64,8],[2004.075,21,8],
];

const yearTicks = [1990, 1992, 1994, 1996, 1998, 2000, 2002, 2004];
const yearTicksNy = [1994, 1996, 1998, 2000, 2002, 2004];
const halfYearTicks = [2000, 2000.5, 2001, 2001.5, 2002, 2002.5, 2003, 2003.5, 2004];

const panels = [
  { title: 'GILCREEK: average daily temperature', data: gilTemp, xd: [1990, 2004.2], yd: [-25, 35], xt: yearTicks, yt: [0, 20], box: [60, 975, 65, 142], ty: 39 },
  { title: 'GILCREEK: average daily WZD', data: gilWzd, xd: [1990, 2004.2], yd: [-50, 200], xt: yearTicks, yt: [0, 200], box: [77, 975, 292, 368], ty: 261 },
  { title: 'NYALES20: average daily temperature', data: nyTemp, xd: [1994, 2004.2], yd: [-15, 20], xt: yearTicksNy, yt: [0, 20], box: [59, 975, 544, 621], ty: 511 },
  { title: 'NYALES20: average daily WZD', data: nyWzd, xd: [1994, 2004.2], yd: [-50, 200], xt: yearTicksNy, yt: [0, 200], box: [77, 975, 772, 848], ty: 739 },
  { title: 'TSUKUB32: average daily temperature', data: tsTemp, xd: [2000, 2004.2], yd: [-15, 40], xt: halfYearTicks, yt: [0, 20], box: [60, 975, 1024, 1101], ty: 991 },
  { title: 'TSUKUB32: average daily WZD', data: tsWzd, xd: [2000, 2004.2], yd: [0, 400], xt: halfYearTicks, yt: [0, 200, 400], box: [77, 975, 1251, 1328], ty: 1219 },
];

const FONT = '"Liberation Sans", Arial, Helvetica, sans-serif';
const FS = '30px';

function drawPanel(svg: any, p: any) {
  const [left, right, top, bottom] = p.box;
  const x = d3.scaleLinear().domain(p.xd).range([left, right]);
  const y = d3.scaleLinear().domain(p.yd).range([bottom, top]);
  const g = svg.append('g');

  g.append('text')
    .attr('x', (left + right) / 2)
    .attr('y', p.ty)
    .attr('text-anchor', 'middle')
    .style('font-family', FONT)
    .style('font-size', FS)
    .text(p.title);

  const fmt = (d: number) => String(d);
  const styleAxis = (a: any, labels: boolean) => {
    a.select('.domain').remove();
    a.selectAll('line').attr('stroke', '#000').attr('stroke-width', 1.2);
    if (labels) {
      a.selectAll('text').style('font-family', FONT).style('font-size', FS).attr('fill', '#000');
    } else {
      a.selectAll('text').remove();
    }
  };

  const xb = g.append('g').attr('transform', `translate(0,${bottom})`)
    .call(d3.axisBottom(x).tickValues(p.xt).tickFormat(fmt as any).tickSize(-9).tickPadding(19));
  styleAxis(xb, true);
  const xtop = g.append('g').attr('transform', `translate(0,${top})`)
    .call(d3.axisTop(x).tickValues(p.xt).tickSize(-9));
  styleAxis(xtop, false);
  const yl = g.append('g').attr('transform', `translate(${left},0)`)
    .call(d3.axisLeft(y).tickValues(p.yt).tickFormat(fmt as any).tickSize(-9).tickPadding(22));
  styleAxis(yl, true);
  const yr = g.append('g').attr('transform', `translate(${right},0)`)
    .call(d3.axisRight(y).tickValues(p.yt).tickSize(-9));
  styleAxis(yr, false);

  g.append('rect')
    .attr('x', left).attr('y', top)
    .attr('width', right - left).attr('height', bottom - top)
    .attr('fill', 'none').attr('stroke', '#000').attr('stroke-width', 1.5);

  const s = 4.5;
  const path = d3.path();
  p.data.forEach((d: number[]) => {
    const px = x(d[0]);
    const py = y(d[1]);
    path.moveTo(px - s, py); path.lineTo(px + s, py);
    path.moveTo(px, py - s); path.lineTo(px, py + s);
    if (d.length > 2) {
      const y1 = y(d[1] + d[2]);
      const y2 = y(d[1] - d[2]);
      path.moveTo(px, y1); path.lineTo(px, y2);
      path.moveTo(px - 4, y1); path.lineTo(px + 4, y1);
      path.moveTo(px - 4, y2); path.lineTo(px + 4, y2);
    }
  });
  g.append('path')
    .attr('d', path.toString())
    .attr('fill', 'none')
    .attr('stroke', '#000')
    .attr('stroke-width', 1.25);
}

export default function App() {
  const ref = useRef<SVGSVGElement>(null);

  useEffect(() => {
    const svg = d3.select(ref.current);
    svg.selectAll('*').remove();
    panels.forEach((p) => drawPanel(svg, p));
  }, []);

  return (
    <svg
      ref={ref}
      width={1008}
      height={1373}
      style={{ position: 'absolute', left: 0, top: 0, background: '#fff' }}
    />
  );
}
